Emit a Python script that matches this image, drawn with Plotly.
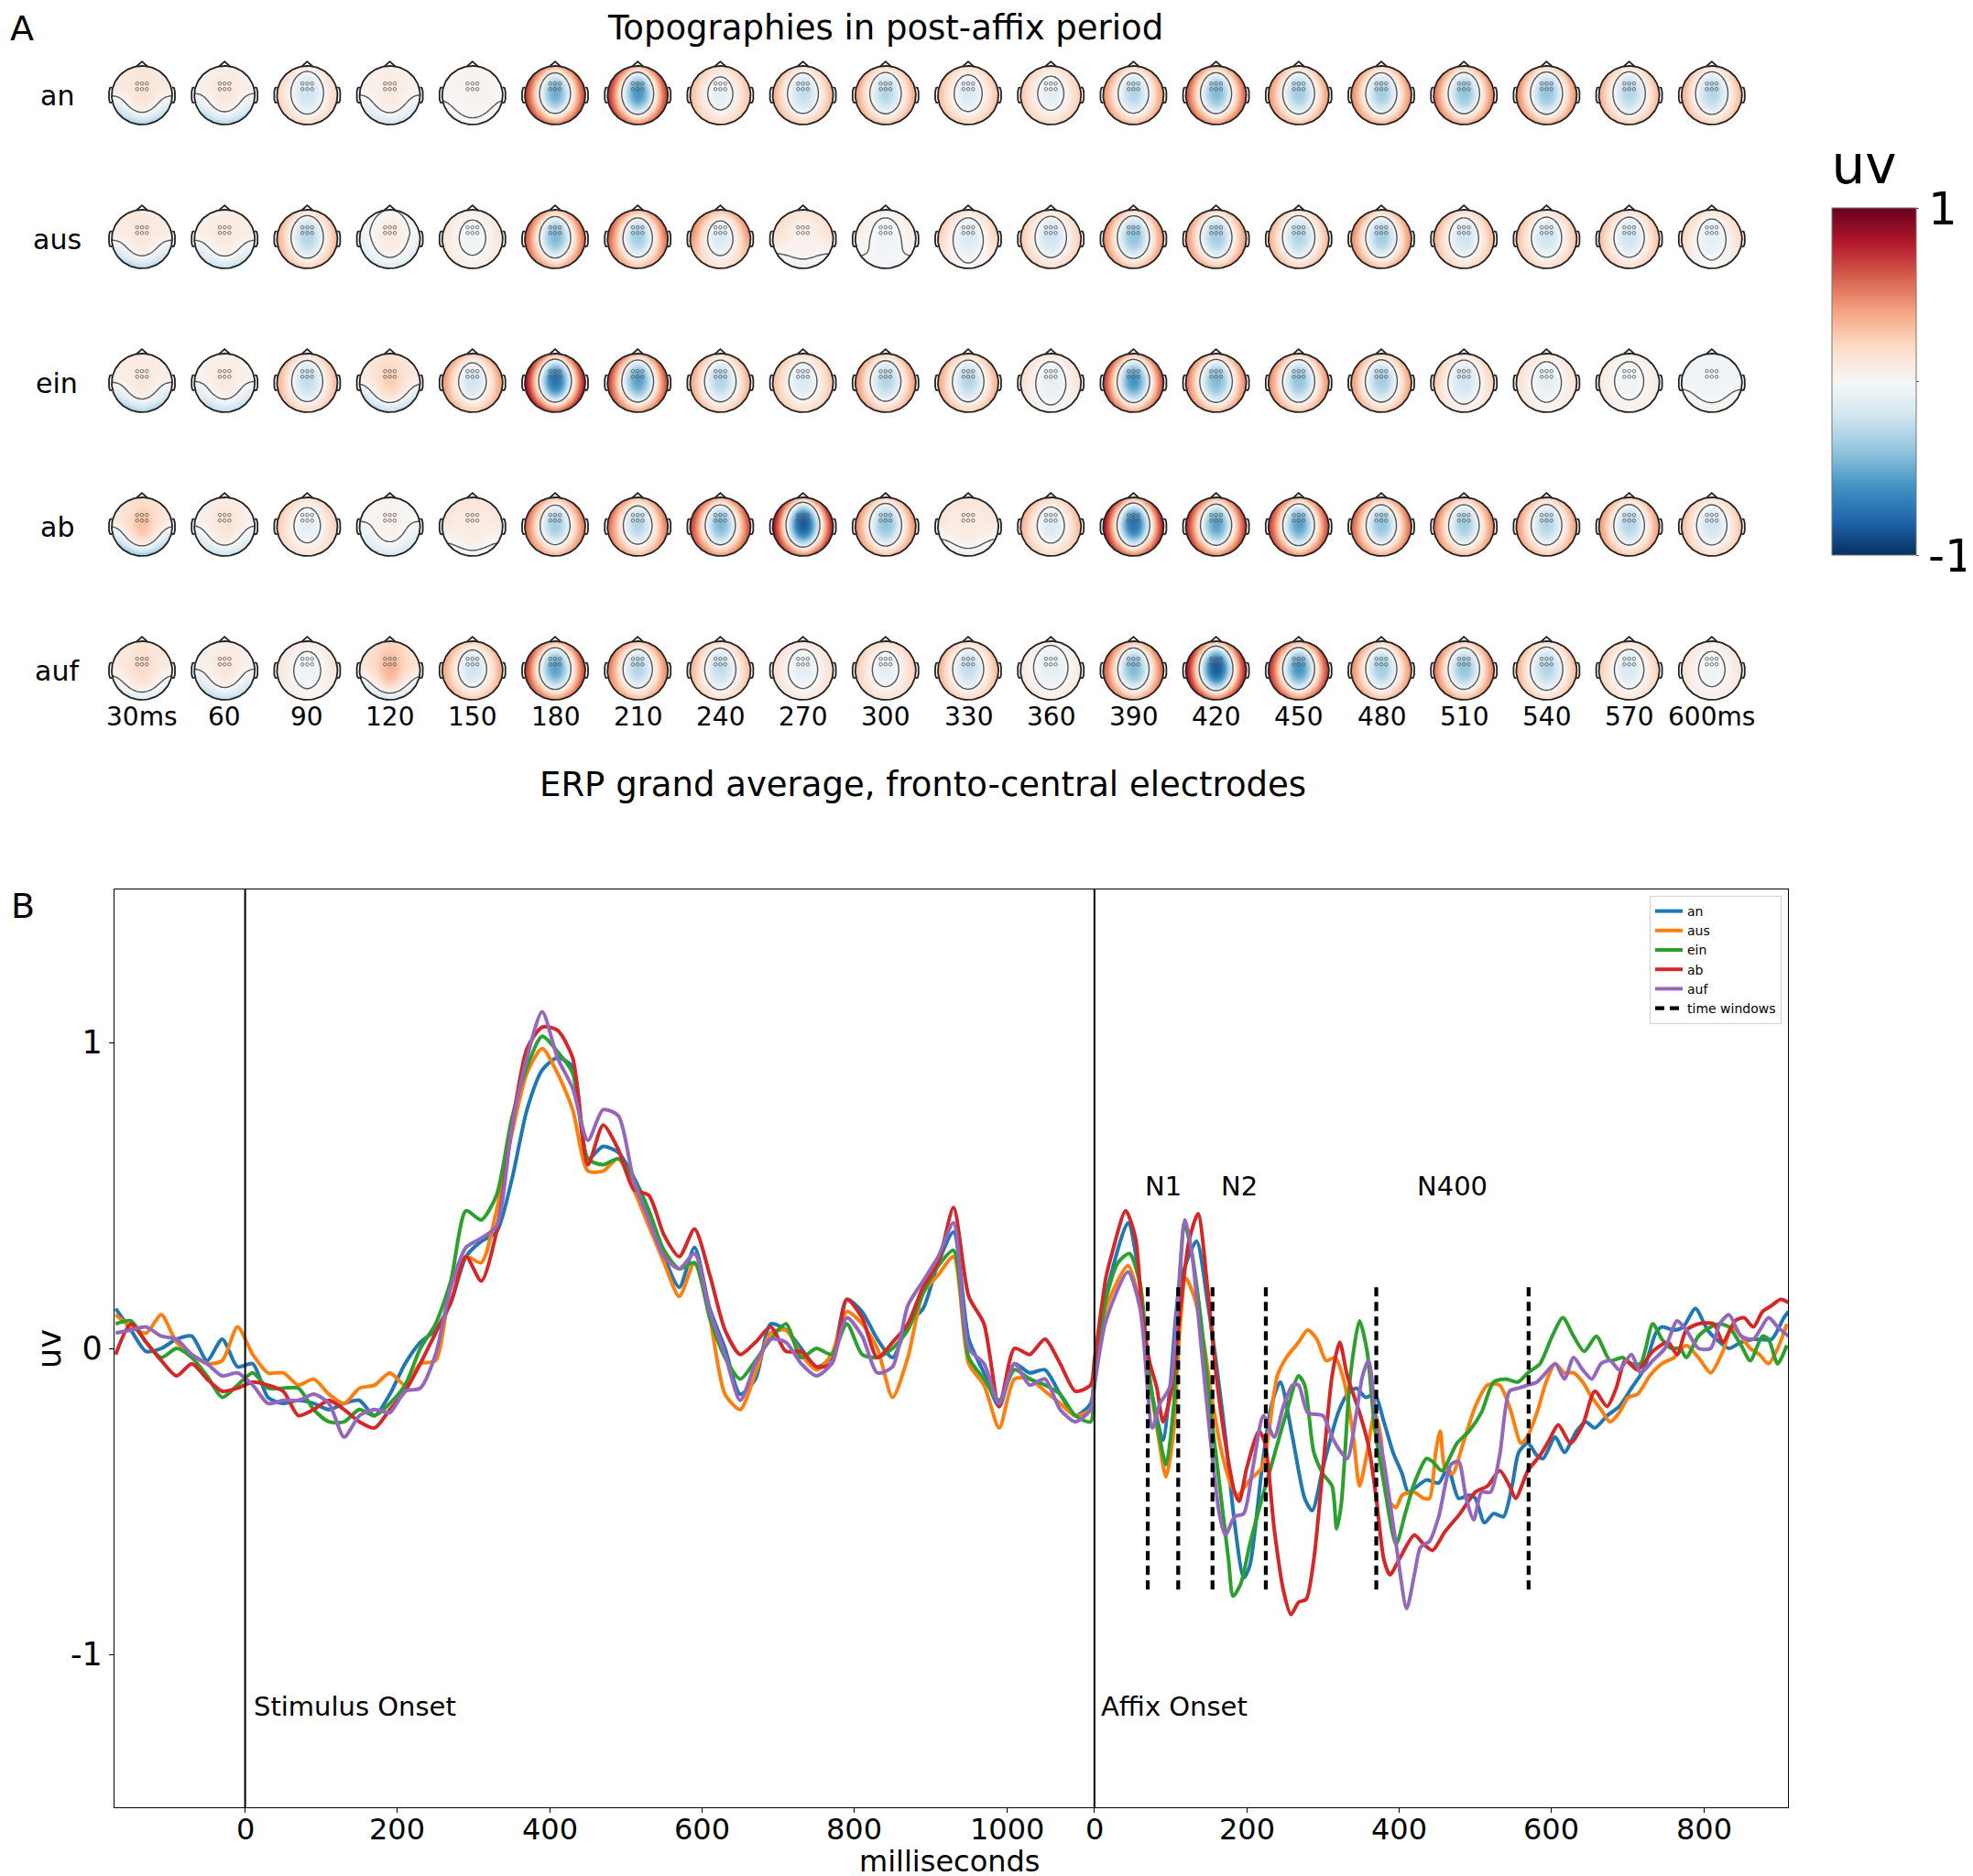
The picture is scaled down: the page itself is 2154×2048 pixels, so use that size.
import numpy as np
import plotly.graph_objects as go

W, H = 2154, 2048
FONT = "DejaVu Sans"

# ---------------- Panel A data ----------------
conditions = ["an", "aus", "ein", "ab", "auf"]
topo_labels = ["30ms", "60", "90", "120", "150", "180", "210", "240", "270", "300",
               "330", "360", "390", "420", "450", "480", "510", "540", "570", "600ms"]

# each topography summarised by its potential (uV) at the fronto-central centre,
# at the anterior/lateral rim and at the posterior rim
centre_an = [0.15, 0.12, -0.2, 0.1, 0.05, -0.5, -0.6, -0.1, -0.25, -0.3, -0.15, -0.1, -0.3, -0.45, -0.35, -0.35, -0.4, -0.4, -0.3, -0.3]
front_an = [0.1, 0.05, 0.25, 0.05, 0.02, 0.8, 0.85, 0.35, 0.4, 0.45, 0.35, 0.3, 0.5, 0.7, 0.5, 0.55, 0.6, 0.55, 0.4, 0.4]
back_an = [-0.5, -0.45, 0.3, -0.3, -0.05, 0.8, 0.8, 0.3, 0.4, 0.45, 0.35, 0.3, 0.5, 0.7, 0.5, 0.55, 0.6, 0.55, 0.4, 0.4]

centre_aus = [0.12, 0.1, -0.3, 0.1, -0.05, -0.45, -0.35, -0.15, 0.05, -0.05, -0.15, -0.2, -0.4, -0.35, -0.3, -0.35, -0.2, -0.2, -0.2, -0.1]
front_aus = [0.1, 0.08, 0.4, -0.05, 0.15, 0.7, 0.7, 0.55, 0.2, 0.1, 0.3, 0.3, 0.55, 0.5, 0.4, 0.55, 0.4, 0.35, 0.35, 0.25]
back_aus = [-0.45, -0.35, 0.4, -0.2, 0.1, 0.6, 0.5, 0.2, -0.15, -0.05, 0.05, 0.3, 0.5, 0.5, 0.4, 0.5, 0.3, 0.3, 0.3, 0.05]

centre_ein = [0.12, 0.1, -0.25, 0.25, -0.2, -0.75, -0.55, -0.3, -0.15, -0.3, -0.3, -0.1, -0.6, -0.45, -0.4, -0.35, -0.2, -0.1, -0.05, -0.05]
front_ein = [0.08, 0.05, 0.4, 0.1, 0.5, 0.95, 0.8, 0.45, 0.35, 0.5, 0.45, 0.2, 0.8, 0.6, 0.55, 0.5, 0.3, 0.2, 0.1, -0.05]
back_ein = [-0.5, -0.4, 0.35, -0.45, 0.4, 1.0, 0.7, 0.4, 0.3, 0.45, 0.4, 0.05, 0.7, 0.55, 0.5, 0.45, 0.15, 0.1, 0.1, 0.1]

centre_ab = [0.3, 0.15, -0.1, 0.05, 0.1, -0.35, -0.3, -0.45, -0.85, -0.4, 0.1, -0.15, -0.75, -0.55, -0.55, -0.4, -0.35, -0.3, -0.3, -0.2]
front_ab = [0.1, 0.05, 0.3, 0.0, 0.15, 0.65, 0.65, 0.8, 0.95, 0.55, 0.15, 0.4, 0.95, 0.85, 0.8, 0.7, 0.6, 0.5, 0.5, 0.35]
back_ab = [-0.6, -0.35, 0.2, -0.25, -0.1, 0.55, 0.5, 0.7, 0.9, 0.5, -0.15, 0.3, 0.9, 0.8, 0.75, 0.6, 0.5, 0.45, 0.45, 0.3]

centre_auf = [0.2, 0.12, -0.05, 0.35, -0.2, -0.55, -0.3, -0.25, -0.1, -0.1, -0.25, -0.1, -0.45, -0.85, -0.6, -0.35, -0.4, -0.3, -0.15, -0.05]
front_auf = [0.1, 0.05, 0.15, 0.15, 0.45, 0.8, 0.6, 0.4, 0.2, 0.3, 0.4, 0.1, 0.7, 0.95, 0.85, 0.55, 0.6, 0.4, 0.3, 0.15]
back_auf = [-0.25, -0.4, 0.05, -0.35, 0.4, 0.75, 0.5, 0.3, 0.15, 0.2, 0.35, 0.15, 0.6, 0.95, 0.8, 0.5, 0.55, 0.35, 0.2, 0.1]

# ---------------- Panel B data ----------------
affix_onset = 1115          # ms after stimulus onset
t_pre = list(range(-170, 1111, 20))   # sample times before affix onset (ms)

erp_pre_an = [0.13, 0.06, -0.01, 0.0, 0.03, 0.04, -0.04, 0.03, -0.06,
              -0.05, -0.16, -0.18, -0.17, -0.18, -0.20, -0.18, -0.17, -0.22, -0.15,
              -0.05, 0.02, 0.06, 0.15, 0.30, 0.35, 0.38, 0.55, 0.78, 0.91,
              0.95, 0.92, 0.62, 0.66, 0.64, 0.56, 0.45, 0.30, 0.20, 0.33,
              0.13, 0.00, -0.15, -0.10, 0.08, 0.06, 0.00, -0.06, -0.03, 0.16,
              0.12, 0.03, -0.03, 0.08, 0.13, 0.28, 0.38, 0.03, -0.08, -0.19,
              -0.05, -0.08, -0.07, -0.15, -0.22, -0.18]
erp_pre_aus = [0.11, 0.07, 0.05, 0.11, 0.02, -0.02, -0.05, -0.04, 0.07,
               -0.02, -0.08, -0.08, -0.12, -0.10, -0.15, -0.18, -0.13, -0.12, -0.08,
               -0.12, -0.05, -0.04, 0.20, 0.30, 0.28, 0.45, 0.70, 0.90, 0.98,
               0.90, 0.78, 0.58, 0.58, 0.62, 0.52, 0.40, 0.28, 0.17, 0.28,
               0.10, -0.15, -0.20, -0.08, 0.05, 0.06, -0.02, -0.07, -0.02, 0.12,
               0.08, 0.00, -0.16, -0.03, 0.18, 0.24, 0.30, -0.05, -0.12, -0.26,
               -0.10, -0.10, -0.14, -0.18, -0.22, -0.20]
erp_pre_ein = [0.08, 0.09, 0.02, -0.03, 0.00, -0.03, -0.09, -0.16, -0.12,
               -0.08, -0.13, -0.13, -0.13, -0.20, -0.24, -0.24, -0.20, -0.22, -0.18,
               -0.12, 0.00, 0.08, 0.22, 0.45, 0.42, 0.50, 0.75, 0.92, 1.02,
               0.97, 0.90, 0.62, 0.60, 0.62, 0.55, 0.45, 0.32, 0.26, 0.28,
               0.10, -0.03, -0.10, -0.04, 0.03, 0.08, -0.03, 0.00, -0.02, 0.08,
               -0.02, -0.03, 0.00, 0.06, 0.18, 0.27, 0.32, -0.03, -0.10, -0.17,
               -0.07, -0.10, -0.12, -0.15, -0.22, -0.24]
erp_pre_ab = [-0.02, 0.08, 0.02, -0.04, -0.09, -0.05, -0.10, -0.14, -0.13,
              -0.11, -0.12, -0.14, -0.22, -0.20, -0.17, -0.20, -0.24, -0.26, -0.20,
              -0.14, -0.05, 0.05, 0.15, 0.30, 0.22, 0.38, 0.72, 0.98, 1.05,
              1.04, 0.95, 0.60, 0.73, 0.65, 0.52, 0.50, 0.37, 0.30, 0.39,
              0.24, 0.06, -0.02, 0.02, 0.07, -0.01, -0.01, -0.06, -0.05, 0.16,
              0.10, -0.03, 0.02, 0.08, 0.20, 0.28, 0.46, 0.17, 0.08, -0.19,
              0.00, -0.02, 0.03, -0.05, -0.14, -0.12]
erp_pre_auf = [0.05, 0.06, 0.07, 0.04, 0.03, -0.02, -0.05, -0.09, -0.08,
               -0.12, -0.18, -0.17, -0.17, -0.15, -0.18, -0.29, -0.22, -0.20, -0.21,
               -0.14, -0.13, -0.02, 0.20, 0.33, 0.36, 0.40, 0.72, 0.95, 1.10,
               0.95, 0.85, 0.68, 0.78, 0.76, 0.55, 0.42, 0.30, 0.26, 0.31,
               0.12, -0.02, -0.17, -0.05, 0.03, 0.02, -0.05, -0.09, -0.05, 0.10,
               0.04, -0.08, -0.06, 0.14, 0.22, 0.30, 0.41, 0.00, -0.05, -0.18,
               -0.05, -0.12, -0.10, -0.20, -0.24, -0.20]

# (ms after affix onset, uV)
erp_post_an = [(0, -0.09), (15, 0.17), (44, 0.41), (60, 0.21), (72, -0.09), (84, -0.25), (90, -0.30),
               (100, -0.11), (112, 0.21), (134, 0.35), (148, 0.16), (160, -0.05), (172, -0.29), (184, -0.57),
               (196, -0.75), (204, -0.71), (220, -0.39), (232, -0.19), (244, -0.11), (260, -0.29), (276, -0.49),
               (286, -0.53), (300, -0.39), (320, -0.21), (332, -0.15), (344, -0.13), (356, -0.16), (368, -0.15),
               (380, -0.24), (392, -0.34), (404, -0.41), (412, -0.47), (424, -0.45), (436, -0.43), (452, -0.44),
               (464, -0.39), (478, -0.49), (492, -0.48), (500, -0.49), (512, -0.57), (524, -0.54), (537, -0.55),
               (549, -0.44), (557, -0.34), (569, -0.31), (581, -0.35), (589, -0.36), (605, -0.29), (617, -0.34),
               (633, -0.27), (645, -0.24), (657, -0.26), (673, -0.22), (689, -0.19), (705, -0.13), (721, -0.07),
               (737, 0.05), (745, 0.07), (761, 0.06), (773, 0.07), (789, 0.13), (805, 0.06), (821, 0.02),
               (833, 0.00), (849, 0.02), (865, 0.03), (889, 0.03), (905, 0.10), (911, 0.12)]
erp_post_aus = [(0, -0.09), (15, 0.13), (44, 0.27), (60, 0.14), (72, -0.09), (84, -0.29), (94, -0.42),
                (104, -0.27), (112, 0.06), (120, 0.23), (132, 0.16), (144, 0.01), (156, -0.19), (168, -0.35),
                (180, -0.45), (188, -0.48), (204, -0.43), (220, -0.39), (228, -0.29), (240, -0.09), (252, -0.03),
                (268, 0.02), (280, 0.06), (292, 0.03), (304, -0.04), (316, -0.03), (328, -0.11), (340, -0.29),
                (348, -0.45), (358, -0.34), (368, -0.21), (376, -0.29), (384, -0.49), (396, -0.52), (404, -0.48),
                (420, -0.47), (432, -0.49), (440, -0.49), (448, -0.34), (454, -0.27), (460, -0.39), (470, -0.41),
                (484, -0.31), (500, -0.19), (516, -0.12), (532, -0.12), (546, -0.20), (560, -0.31), (568, -0.29),
                (581, -0.21), (593, -0.11), (605, -0.05), (617, -0.08), (629, -0.08), (641, -0.11), (653, -0.16),
                (665, -0.20), (677, -0.24), (689, -0.21), (701, -0.16), (713, -0.15), (729, -0.09), (745, -0.05),
                (761, -0.03), (777, 0.01), (793, -0.03), (809, -0.08), (825, -0.01), (837, 0.07), (849, 0.04),
                (861, 0.00), (873, -0.02), (885, -0.05), (897, 0.00), (909, 0.08)]
erp_post_ein = [(0, -0.11), (15, 0.16), (31, 0.28), (46, 0.31), (60, 0.21), (72, -0.09), (84, -0.27),
                (94, -0.38), (104, -0.19), (114, 0.31), (118, 0.41), (128, 0.31), (140, 0.09), (152, -0.19),
                (164, -0.44), (176, -0.69), (182, -0.81), (192, -0.77), (204, -0.64), (220, -0.49), (236, -0.35),
                (252, -0.21), (268, -0.09), (276, -0.12), (288, -0.34), (300, -0.41), (312, -0.45), (318, -0.59),
                (324, -0.51), (336, -0.09), (348, 0.09), (358, -0.01), (368, -0.26), (380, -0.44), (396, -0.64),
                (408, -0.54), (420, -0.44), (436, -0.36), (444, -0.37), (456, -0.40), (476, -0.31), (492, -0.27),
                (508, -0.21), (524, -0.11), (540, -0.10), (556, -0.11), (569, -0.08), (585, -0.05), (601, 0.04),
                (615, 0.10), (629, 0.04), (643, -0.01), (659, 0.04), (677, -0.04), (693, -0.03), (705, -0.05),
                (717, -0.05), (733, 0.08), (745, 0.03), (757, 0.00), (769, 0.00), (777, -0.03), (793, 0.04),
                (809, 0.07), (821, 0.08), (833, 0.07), (849, 0.01), (861, -0.04), (877, 0.04), (885, 0.03),
                (897, -0.05), (909, 0.01)]
erp_post_ab = [(0, -0.04), (15, 0.23), (23, 0.31), (41, 0.45), (54, 0.36), (62, 0.13), (72, -0.04),
               (82, -0.13), (90, -0.24), (100, -0.15), (112, 0.11), (124, 0.35), (136, 0.44), (148, 0.21),
               (160, -0.09), (172, -0.31), (184, -0.47), (190, -0.50), (200, -0.39), (216, -0.27), (224, -0.31),
               (236, -0.59), (248, -0.79), (258, -0.87), (268, -0.83), (278, -0.82), (288, -0.69), (300, -0.39),
               (312, -0.09), (322, 0.02), (332, -0.09), (348, -0.21), (360, -0.32), (370, -0.49), (380, -0.69),
               (388, -0.74), (400, -0.69), (420, -0.61), (432, -0.64), (444, -0.66), (460, -0.60), (480, -0.54),
               (500, -0.47), (516, -0.45), (532, -0.40), (545, -0.45), (553, -0.49), (569, -0.40), (585, -0.35),
               (597, -0.30), (609, -0.25), (625, -0.31), (641, -0.25), (657, -0.14), (673, -0.19), (685, -0.13),
               (697, -0.04), (713, -0.07), (733, -0.01), (753, 0.02), (765, -0.02), (777, 0.06), (793, 0.08),
               (813, 0.08), (825, 0.02), (841, 0.09), (853, 0.10), (865, 0.07), (877, 0.12), (889, 0.14),
               (901, 0.16), (911, 0.15)]
erp_post_auf = [(0, -0.12), (15, 0.09), (44, 0.25), (60, 0.13), (76, -0.26), (86, -0.18), (94, -0.15),
                (100, -0.12), (108, 0.11), (119, 0.42), (128, 0.31), (140, 0.01), (152, -0.29), (164, -0.54),
                (172, -0.61), (184, -0.55), (196, -0.54), (208, -0.39), (222, -0.22), (236, -0.29), (248, -0.19),
                (260, -0.12), (268, -0.12), (280, -0.21), (300, -0.22), (312, -0.29), (324, -0.34), (332, -0.36),
                (344, -0.21), (352, -0.09), (360, -0.04), (370, -0.24), (380, -0.37), (396, -0.64), (410, -0.85),
                (420, -0.74), (428, -0.65), (440, -0.63), (452, -0.55), (468, -0.38), (478, -0.37), (488, -0.49),
                (498, -0.56), (508, -0.47), (520, -0.47), (532, -0.35), (545, -0.14), (557, -0.13), (569, -0.12),
                (581, -0.11), (589, -0.09), (605, -0.05), (617, -0.10), (629, -0.03), (641, -0.07), (653, -0.10),
                (665, -0.05), (677, -0.04), (689, -0.07), (705, -0.02), (717, -0.08), (733, -0.04), (749, 0.00),
                (765, 0.09), (777, 0.06), (793, 0.00), (809, 0.00), (821, 0.08), (833, 0.11), (849, 0.04),
                (865, 0.03), (885, 0.10), (897, 0.07), (911, 0.04)]

window_bounds = [70, 110, 155, 225, 370, 570]   # ms after affix onset
window_names = ["N1", "N2", "N400"]
window_y = [0.2, -0.8]
stim_ticks = [0, 200, 400, 600, 800, 1000]
affix_ticks = [0, 200, 400, 600, 800]

line_colors = ["#1f77b4", "#ff7f0e", "#2ca02c", "#d62728", "#9467bd"]
rdbu_r = ["#053061", "#2166ac", "#4393c3", "#92c5de", "#d1e5f0", "#f7f7f7",
          "#fddbc7", "#f4a582", "#d6604d", "#b2182b", "#67001f"]


def px(x):
    return x / W


def py(y):
    return 1 - y / H


fig = go.Figure()

# ---------------- Panel B ----------------
pre_series = [erp_pre_an, erp_pre_aus, erp_pre_ein, erp_pre_ab, erp_pre_auf]
post_series = [erp_post_an, erp_post_aus, erp_post_ein, erp_post_ab, erp_post_auf]
for name, col, pre, post in zip(conditions, line_colors, pre_series, post_series):
    xs = list(t_pre) + [affix_onset + t for t, _ in post]
    ys = list(pre) + [v for _, v in post]
    fig.add_trace(go.Scatter(x=xs, y=ys, mode="lines", name=name,
                             line=dict(color=col, width=4.0, shape="spline", smoothing=0.7),
                             hoverinfo="skip", xaxis="x", yaxis="y"))

wx, wy = [], []
for b in window_bounds:
    wx += [affix_onset + b, affix_onset + b, None]
    wy += [window_y[0], window_y[1], None]
fig.add_trace(go.Scatter(x=wx, y=wy, mode="lines", name="time windows",
                         line=dict(color="black", width=4.2, dash="10px,6px"),
                         hoverinfo="skip", xaxis="x", yaxis="y"))

# ---------------- Panel A ----------------
col_x0, col_dx = 147.0, 90.2
row_y0, row_dy = 96.0, 157.0
RX, RY = 33.0, 32.0
n = 33
g = np.linspace(-1, 1, n)
G_U, G_Y = np.meshgrid(g, g)
G_V = -G_Y  # "up" coordinate

centres = [centre_an, centre_aus, centre_ein, centre_ab, centre_auf]
fronts = [front_an, front_aus, front_ein, front_ab, front_auf]
backs = [back_an, back_aus, back_ein, back_ab, back_auf]


def topo_field(c, a, b):
    rho = np.sqrt(G_U ** 2 + G_V ** 2)
    wc = np.exp(-(G_U ** 2 + ((G_V - 0.1) / 1.5) ** 2) / 0.33)
    t = np.clip((0.2 - G_V) / 1.2, 0, 1)
    rim = a * (1 - t) + b * t
    return c * wc + (1 - wc) * rim * np.minimum(rho, 1.0)


mask_x, mask_y = [], []
out_x, out_y = [], []
el_x, el_y = [], []
theta = np.linspace(0, 2 * np.pi, 90)
S = 1.12
for r in range(len(conditions)):
    cy = row_y0 + r * row_dy
    for c in range(len(topo_labels)):
        cx = col_x0 + c * col_dx
        z = topo_field(centres[r][c], fronts[r][c], backs[r][c])
        fig.add_trace(go.Contour(
            x=cx + g * RX, y=cy + g * RY, z=z, coloraxis="coloraxis",
            autocontour=False, contours=dict(start=0, end=0, size=1, coloring="heatmap", showlines=True),
            line=dict(color="#555555", width=1.4, smoothing=1),
            hoverinfo="skip", showlegend=False, xaxis="x2", yaxis="y2"))
        # white keyhole mask outside the head circle
        sq = [(S, 0), (S, -S), (-S, -S), (-S, S), (S, S), (S, 0)]
        mask_x += [cx + u * RX for u, _ in sq] + list(cx + RX * np.cos(theta)) + [cx + S * RX, None]
        mask_y += [cy + v * RY for _, v in sq] + list(cy + RY * np.sin(theta)) + [cy, None]
        # head outline, nose, ears
        out_x += list(cx + RX * np.cos(theta)) + [None]
        out_y += list(cy + RY * np.sin(theta)) + [None]
        nose = [(-0.18, 0.985), (0, 1.15), (0.18, 0.985)]
        out_x += [cx + u * RX for u, _ in nose] + [None]
        out_y += [cy - v * RY for _, v in nose] + [None]
        for s in (-1, 1):
            ear = [(0.99, 0.27), (1.06, 0.25), (1.09, 0.12), (1.09, -0.14), (1.06, -0.24), (0.99, -0.26)]
            out_x += [cx + s * u * RX for u, _ in ear] + [None]
            out_y += [cy - v * RY for _, v in ear] + [None]
        for ev in (0.4, 0.21):
            for eu in (-0.16, 0.0, 0.16):
                el_x.append(cx + eu * RX)
                el_y.append(cy - ev * RY)

fig.add_trace(go.Scatter(x=mask_x, y=mask_y, mode="lines", fill="toself", fillcolor="white",
                         line=dict(width=0, color="white"), hoverinfo="skip", showlegend=False,
                         xaxis="x2", yaxis="y2"))
fig.add_trace(go.Scatter(x=out_x, y=out_y, mode="lines", line=dict(color="#222222", width=1.8),
                         hoverinfo="skip", showlegend=False, xaxis="x2", yaxis="y2"))
fig.add_trace(go.Scatter(x=el_x, y=el_y, mode="markers",
                         marker=dict(symbol="circle-open", size=3.5, color="#555555", line=dict(width=0.8)),
                         hoverinfo="skip", showlegend=False, xaxis="x2", yaxis="y2"))

# ---------------- annotations ----------------
ann = []


def text(x, y, s, size, xanchor="center", yanchor="middle", xref="paper", yref="paper", angle=0):
    ann.append(dict(x=x, y=y, text=s, xref=xref, yref=yref, showarrow=False, xanchor=xanchor,
                    yanchor=yanchor, textangle=angle, borderpad=0,
                    font=dict(family=FONT, size=size, color="black")))


text(px(2), py(0), "A", 38, xanchor="left", yanchor="top")
text(px(3), py(958), "B", 38, xanchor="left", yanchor="top")
text(px(958), py(0), "Topographies in post-affix period", 37, yanchor="top")
text(px(999), py(848), "ERP grand average, fronto-central electrodes", 37)
for r, name in enumerate(conditions):
    text(px(54), py(row_y0 + r * row_dy), name, 30)
for c, lab in enumerate(topo_labels):
    text(px(col_x0 + c * col_dx), py(774), lab, 28)

text(10, -1.17, "Stimulus Onset", 29, xanchor="left", xref="x", yref="y")
text(affix_onset + 8, -1.17, "Affix Onset", 29, xanchor="left", xref="x", yref="y")
for i, nm in enumerate(window_names):
    mid = 0.5 * (window_bounds[2 * i] + window_bounds[2 * i + 1])
    text(affix_onset + mid, 0.53, nm, 29, xref="x", yref="y")
text(px(46), py(1465), "uv", 35, angle=-90)
text(px(1029), py(2044), "milliseconds", 32, yanchor="bottom")

tickvals = stim_ticks + [affix_onset + t for t in affix_ticks]
ticktext = [str(t) for t in stim_ticks] + [str(t) for t in affix_ticks]
for tv, tt in zip(tickvals, ticktext):
    text(tv, py(1969), tt, 32, yanchor="top", xref="x")

fig.update_layout(
    width=W, height=H,
    margin=dict(l=0, r=0, t=0, b=0, pad=0),
    paper_bgcolor="white", plot_bgcolor="rgba(0,0,0,0)",
    font=dict(family=FONT, color="black"),
    annotations=ann,
    shapes=[dict(type="line", xref="x", yref="y domain", x0=t, x1=t, y0=0, y1=1,
                 line=dict(color="black", width=2)) for t in (0, affix_onset)],
    xaxis=dict(domain=[px(117), px(1944)], range=[-171.5, 2025.5], anchor="y",
               tickvals=tickvals, showticklabels=False, ticks="outside", ticklen=5, tickwidth=1.4,
               tickcolor="black", showline=True, mirror=True, linecolor="black", linewidth=1.4,
               showgrid=False, zeroline=False),
    yaxis=dict(domain=[py(1965), py(963)], range=[-1.5, 1.5], anchor="x",
               tickvals=[-1, 0, 1], ticktext=["-1", "0", "1"], ticks="outside", ticklen=5, tickwidth=1.4,
               tickcolor="black", showline=True, mirror=True, linecolor="black", linewidth=1.4,
               showgrid=False, zeroline=False, tickfont=dict(size=35, family=FONT)),
    xaxis2=dict(domain=[0, 1], range=[0, W], anchor="y2", visible=False),
    yaxis2=dict(domain=[0, 1], range=[H, 0], anchor="x2", visible=False),
    coloraxis=dict(colorscale=[[i / 10, c] for i, c in enumerate(rdbu_r)], cmin=-1, cmax=1,
                   colorbar=dict(x=px(1992), xanchor="left", y=py(372), yanchor="middle",
                                 len=452 / H, lenmode="fraction", thickness=92, thicknessmode="pixels",
                                 outlinewidth=1, outlinecolor="#777777", xpad=0, ypad=0,
                                 tickvals=[-1, 0, 1], ticktext=["-1", "", "1"], ticks="outside",
                                 ticklen=3, tickcolor="#555555",
                                 tickfont=dict(size=50, family=FONT),
                                 title=dict(text="uv", side="top", font=dict(size=58, family=FONT)))),
    legend=dict(x=px(1937), xanchor="right", y=py(970), yanchor="top", bgcolor="white",
                bordercolor="#d0d0d0", borderwidth=1, font=dict(size=14, family=FONT),
                itemwidth=30, tracegroupgap=0),
    showlegend=True,
)

fig.write_html("out.html")
